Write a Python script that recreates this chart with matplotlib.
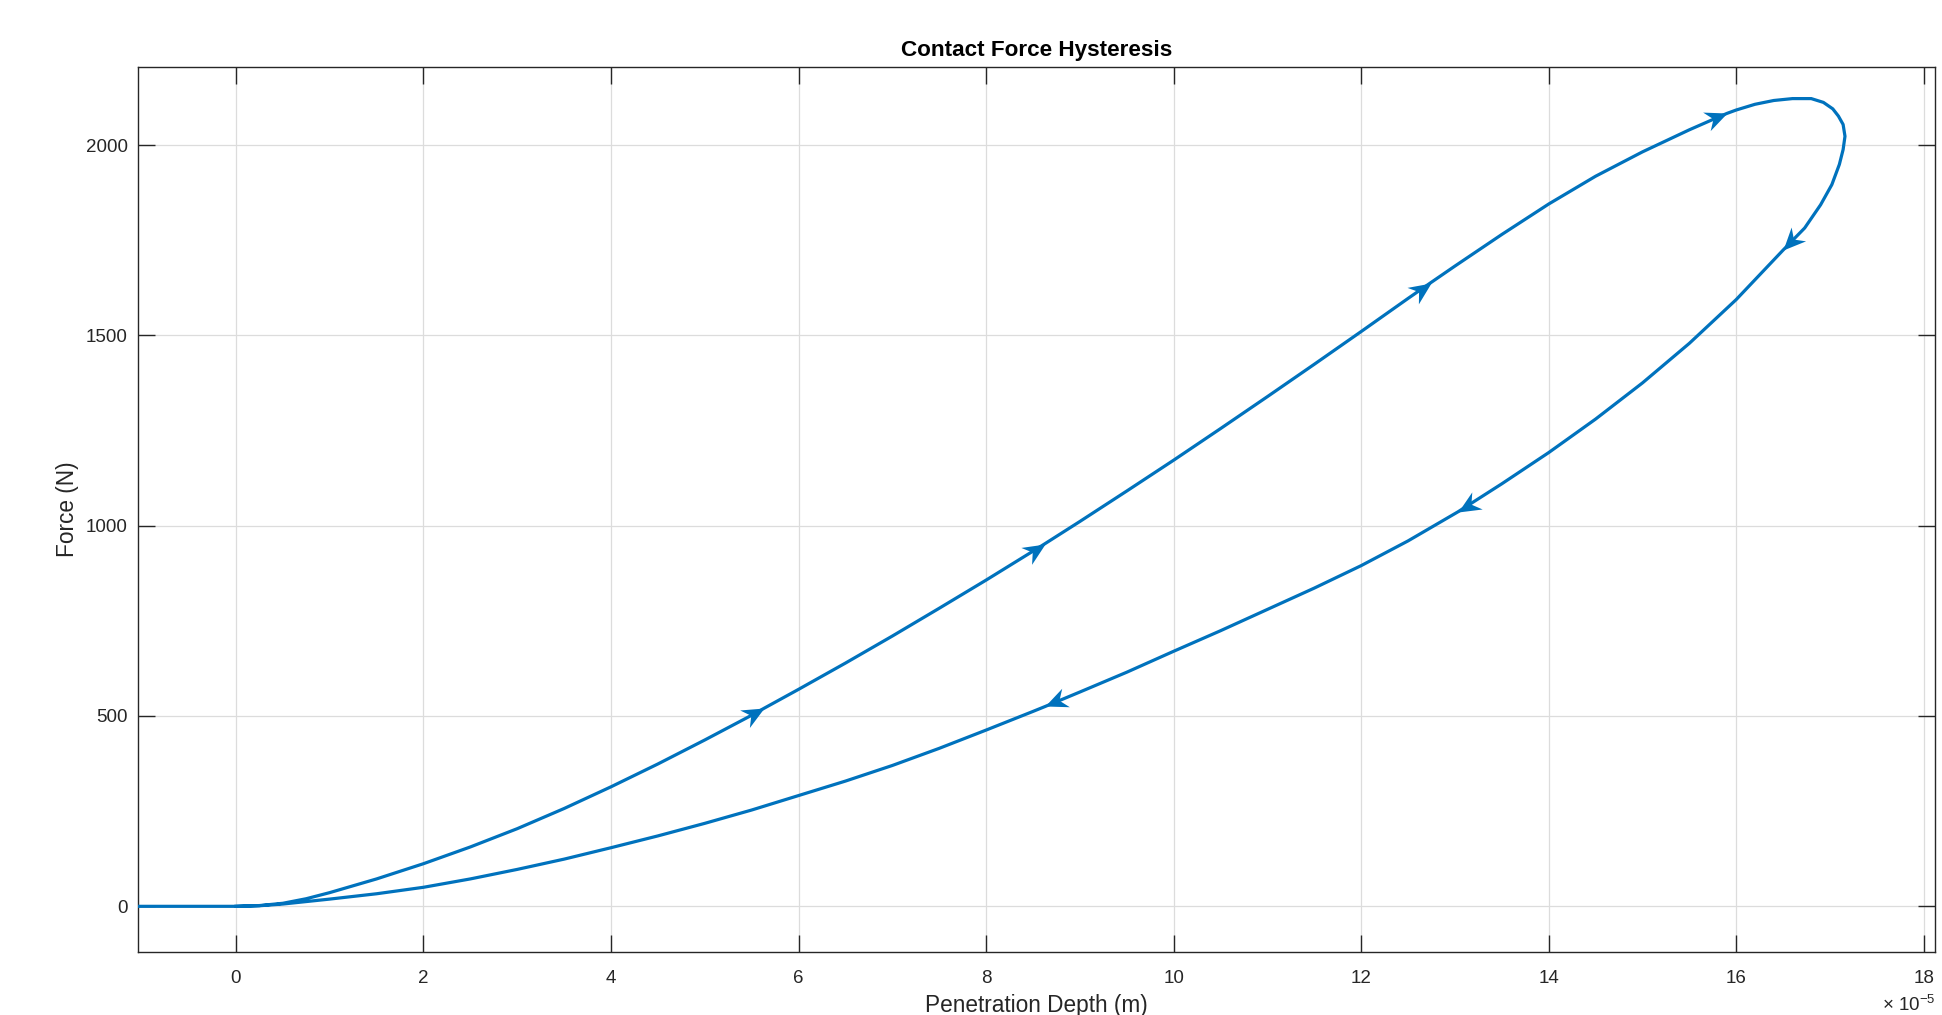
import numpy as np
import matplotlib
matplotlib.use("Agg")
import matplotlib.pyplot as plt
from matplotlib.path import Path
from matplotlib.markers import MarkerStyle
from matplotlib.transforms import Affine2D

plt.rcParams['font.family'] = ['Liberation Sans', 'DejaVu Sans']
plt.rcParams['mathtext.fontset'] = 'custom'
plt.rcParams['mathtext.rm'] = 'Liberation Sans'
plt.rcParams['mathtext.it'] = 'Liberation Sans:italic'

# penetration depth in units of 1e-5 m, force in N
load_depth = [-1.05, 0.0, 0.25, 0.5, 0.75, 1.0, 1.5, 2.0, 2.5, 3.0, 3.5, 4.0, 4.5, 5.0,
              5.5, 5.63, 6.0, 6.5, 7.0, 7.5, 8.0, 8.5, 8.63, 9.0, 9.5, 10.0, 10.5, 11.0,
              11.5, 12.0, 12.5, 12.74, 13.0, 13.5, 14.0, 14.5, 15.0, 15.5, 15.75, 15.9,
              16.0, 16.2, 16.4, 16.6, 16.8, 16.93, 17.03, 17.09, 17.14, 17.16]
load_force = [0, 0, 2, 8, 20, 36, 72, 112, 156, 204, 257, 314, 374, 437,
              502, 520, 570, 639, 710, 783, 857, 933, 953, 1011, 1091, 1172, 1255, 1339,
              1424, 1510, 1597, 1638, 1682, 1765, 1845, 1918, 1982, 2040, 2067, 2083,
              2092, 2107, 2117, 2122, 2122, 2112, 2095, 2076, 2054, 2023]

unload_depth = [17.14, 17.10, 17.02, 16.90, 16.73, 16.5, 16.0, 15.5, 15.0, 14.5, 14.0,
                13.5, 13.03, 12.5, 12.0, 11.5, 11.0, 10.5, 10.0, 9.5, 9.0, 8.63, 8.5,
                8.0, 7.5, 7.0, 6.5, 6.0, 5.5, 5.0, 4.5, 4.0, 3.5, 3.0, 2.5, 2.0, 1.5,
                1.0, 0.5, 0.25, 0.0]
unload_force = [1988, 1949, 1896, 1843, 1782, 1724, 1594, 1479, 1375, 1280, 1192,
                1110, 1036, 960, 895, 836, 780, 724, 670, 615, 563, 525, 512,
                463, 415, 370, 329, 291, 253, 218, 185, 154, 124, 97, 72, 50, 33,
                19, 6, 1.5, 0]

# where the direction arrows sit (tip positions)
arrow_depth = [5.63, 8.63, 12.74, 15.9, 16.5, 13.03, 8.63]
arrow_force = [520, 953, 1638, 2083, 1724, 1036, 525]
arrow_branch = ['load', 'load', 'load', 'load', 'unload', 'unload', 'unload']

color = '#0072BD'
dark = '#262626'

fig = plt.figure(figsize=(19.42, 10.15), dpi=100)
ax = fig.add_axes([137.5 / 1942, 63 / 1015, (1935 - 137.5) / 1942, (948 - 63) / 1015])

px = np.array(load_depth + unload_depth)
py = np.array(load_force + unload_force)
ax.plot(px, py, color=color, lw=2.3, solid_joinstyle='round', zorder=3)

ax.set_xlim(-1.05, 18.12)
ax.set_ylim(-120, 2205)
ax.set_xticks(np.arange(0, 19, 2))
ax.set_yticks([0, 500, 1000, 1500, 2000])

# stealth-style arrow head, tip at origin pointing +x
head = Path([(0, 0), (-1, 0.45), (-0.68, 0), (-1, -0.45), (0, 0)],
            [Path.MOVETO, Path.LINETO, Path.LINETO, Path.LINETO, Path.CLOSEPOLY])

n_load = len(load_depth)
for ax_x, ax_y, br in zip(arrow_depth, arrow_force, arrow_branch):
    if br == 'load':
        idx = np.arange(0, n_load)
    else:
        idx = np.arange(n_load, len(px))
    d = (px[idx] - ax_x) ** 2 + ((py[idx] - ax_y) / 100) ** 2
    i = idx[np.argmin(d)]
    a = ax.transData.transform((px[max(i - 1, 0)], py[max(i - 1, 0)]))
    b = ax.transData.transform((px[min(i + 1, len(px) - 1)], py[min(i + 1, len(px) - 1)]))
    ang = np.degrees(np.arctan2(b[1] - a[1], b[0] - a[0]))
    m = MarkerStyle(head, transform=Affine2D().rotate_deg(ang))
    ax.plot([ax_x], [ax_y], marker=m, ms=32, color=color, mew=0, ls='none', zorder=4)

ax.grid(True, color='#dcdcdc', lw=0.9)
ax.set_axisbelow(True)
for s in ax.spines.values():
    s.set_color(dark)
    s.set_linewidth(1.0)
ax.tick_params(direction='in', length=12, width=1.0, color=dark, labelcolor=dark,
               labelsize=13.5, top=True, right=True)
ax.tick_params(axis='x', pad=13)
ax.tick_params(axis='y', pad=7)

ax.set_title('Contact Force Hysteresis', fontsize=16.2, fontweight='bold', color='black', pad=8)
ax.set_xlabel('Penetration Depth (m)', fontsize=16.3, color=dark, labelpad=5)
ax.set_ylabel('Force (N)', fontsize=16.3, color=dark, labelpad=5)

fig.text(1882 / 1942, 4 / 1015, r'$\times$ 10$^{-5}$', fontsize=13.5, color=dark,
         ha='left', va='baseline')

fig.savefig('out.png', dpi=100, facecolor='white')
